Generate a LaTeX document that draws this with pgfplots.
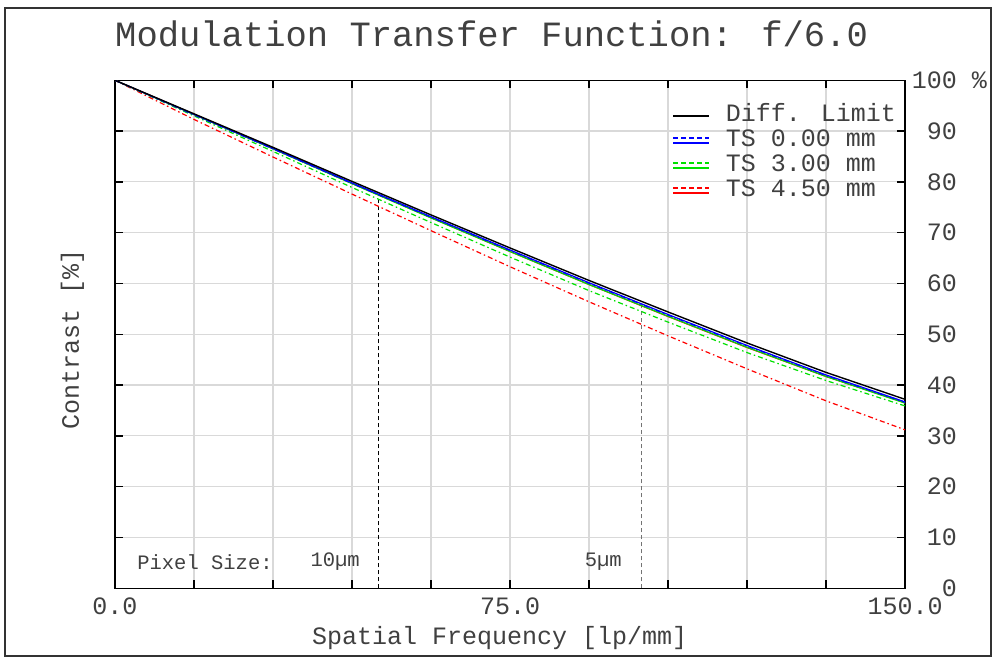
\documentclass[border=0pt]{standalone}
\usepackage{fontspec}
\setmainfont{Liberation Mono}
\usepackage{pgfplots}
\usepackage{pgfplotstable}
\pgfplotsset{compat=1.18}

\definecolor{txt}{gray}{0.25}
\definecolor{gridc}{gray}{0.85}
\definecolor{tsblue}{RGB}{0,0,255}
\definecolor{tsgreen}{RGB}{0,225,0}
\definecolor{tsred}{RGB}{255,0,0}

% nu = spatial frequency [lp/mm]; dl = diffraction limit; *t / *s = two azimuths per field
\pgfplotstableread{
nu   dl    bt     bs     gt     gs    rt     rs
0    100   100    100    100    100   100    100
15   93.4  93.3   93.2   93.25  93.0  93.3   92.3
30   86.8  86.6   86.5   86.5   86.0  86.55  84.9
45   80.1  79.8   79.7   79.65  78.9  79.7   77.6
60   73.5  73.15  73.05  72.9   72.0  72.95  70.4
75   67.0  66.6   66.5   66.3   65.2  66.3   63.3
90   60.6  60.15  60.05  59.8   58.6  59.8   56.4
105  54.4  53.9   53.8   53.55  52.4  53.5   49.7
120  48.3  47.8   47.7   47.45  46.4  47.4   43.2
135  42.5  42.0   41.9   41.7   40.9  41.7   36.9
150  37.2  36.7   36.6   36.45  35.9  36.5   31.2
}\mtf

\tikzset{dd/.style={dash pattern=on 5pt off 3pt on 1.5pt off 3pt}}
\pgfplotsset{
  dl legend/.style={legend image code/.code={
    \draw[##1] (0pt,0pt) -- (36pt,0pt);}},
  ts legend/.style={legend image code/.code={
    \draw[##1, dash pattern=on 5pt off 3pt] (0pt,3pt) -- (36pt,3pt);
    \draw[##1] (0pt,-2pt) -- (36pt,-2pt);}}}

\begin{document}
\begin{tikzpicture}[x=1pt,y=1pt]
\path (0,0) rectangle (998,660);
\draw[line width=1.3pt, black!80] (5,4) rectangle (991,652);
\begin{axis}[
    at={(115pt,71.7pt)}, anchor=south west,
    scale only axis, width=790pt, height=508pt,
    xmin=0, xmax=150, ymin=0, ymax=100,
    axis line style={line width=1.3pt, black},
    xtick={0,75,150}, xticklabels={0.0,75.0,150.0},
    minor xtick={15,30,45,60,90,105,120,135},
    ytick={0,10,...,100},
    yticklabels={0,10,20,30,40,50,60,70,80,90,{100\rlap{~\%}}},
    yticklabel pos=right,
    tick align=inside,
    major tick length=8pt, minor tick length=8pt,
    tick style={line width=1.3pt, black},
    grid=both,
    major grid style={gridc, line width=1.2pt},
    minor grid style={gridc, line width=1.2pt},
    xticklabel style={font=\fontsize{25}{28}\selectfont, text=txt, inner sep=0pt, yshift=-9pt},
    yticklabel style={font=\fontsize{25}{28}\selectfont, text=txt, inner sep=0pt, anchor=east, xshift=52pt},
    title={Modulation Transfer Function: f/6.0},
    title style={font=\fontsize{35.5}{38}\selectfont, text=txt, at={(axis description cs:0,1.080)}, anchor=west, inner sep=0pt},
    xlabel={Spatial Frequency [lp/mm]},
    xlabel style={font=\fontsize{25}{28}\selectfont, text=txt, at={(axis description cs:0.487,-0.098)}, anchor=center, inner sep=0pt},
    ylabel={Contrast [\%]},
    ylabel style={font=\fontsize{25}{28}\selectfont, text=txt, at={(axis description cs:-0.054,0.489)}, anchor=center, rotate=0, inner sep=0pt},
    legend style={at={(axis description cs:1,1)}, anchor=north east, xshift=-4pt, yshift=-22pt,
        draw=none, fill=none, font=\fontsize{25}{25}\selectfont, text=txt,
        nodes={inner ysep=1pt, text height=16pt, text depth=5pt}, row sep=2pt,
        /tikz/every odd column/.append style={column sep=14pt}},
    legend cell align=left,
]
% pixel size markers
\addplot[forget plot, black, line width=1.2pt, dash pattern=on 4pt off 3pt] coordinates {(50,0) (50,77.6)};
\addplot[forget plot, black!55, line width=1.2pt, dash pattern=on 4pt off 3pt] coordinates {(100,0) (100,56.5)};

\addplot[forget plot, tsred, line width=1.2pt, dd] table[x=nu, y=rs] {\mtf};
\addplot[forget plot, tsgreen, line width=1.2pt, dd] table[x=nu, y=gs] {\mtf};
\addplot[forget plot, tsred, line width=1.2pt] table[x=nu, y=rt] {\mtf};
\addplot[forget plot, tsgreen, line width=1.2pt] table[x=nu, y=gt] {\mtf};
\addplot[forget plot, tsblue, line width=1.2pt, dd] table[x=nu, y=bs] {\mtf};
\addplot[forget plot, tsblue, line width=1.2pt] table[x=nu, y=bt] {\mtf};
\addplot[forget plot, black, line width=1.4pt] table[x=nu, y=dl] {\mtf};

\addlegendimage{black, line width=1.4pt, dl legend}
\addlegendentry{Diff. Limit}
\addlegendimage{tsblue, line width=1.2pt, ts legend}
\addlegendentry{TS 0.00 mm}
\addlegendimage{tsgreen, line width=1.2pt, ts legend}
\addlegendentry{TS 3.00 mm}
\addlegendimage{tsred, line width=1.2pt, ts legend}
\addlegendentry{TS 4.50 mm}

\node[anchor=west, inner sep=0pt, text=txt, font=\fontsize{20.5}{22}\selectfont] at (axis cs:4.2,5.2) {Pixel Size:};
\node[inner sep=0pt, text=txt, font=\fontsize{20.5}{22}\selectfont] at (axis cs:41.8,5.2) {10µm};
\node[inner sep=0pt, text=txt, font=\fontsize{20.5}{22}\selectfont] at (axis cs:92.7,5.2) {5µm};
\end{axis}
\end{tikzpicture}
\end{document}
